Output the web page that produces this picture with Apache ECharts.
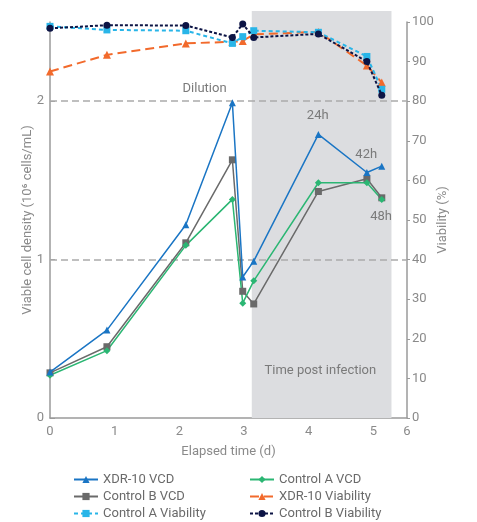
<!DOCTYPE html>
<html><head><meta charset="utf-8">
<script src="https://cdn.jsdelivr.net/npm/echarts@6/dist/echarts.min.js"></script>
<style>html,body{margin:0;padding:0;background:#fff}#c{width:477px;height:522px}</style>
</head><body><div id="c"></div>
<script>
const days = [0, 0.88, 2.1, 2.82, 2.98, 3.15, 4.15, 4.9, 5.13];
const xdrVCD = [0.29, 0.555, 1.22, 1.99, 0.89, 0.99, 1.79, 1.55, 1.59];
const ctrlAVCD = [0.27, 0.425, 1.09, 1.38, 0.725, 0.866, 1.485, 1.485, 1.38];
const ctrlBVCD = [0.285, 0.45, 1.106, 1.63, 0.80, 0.72, 1.43, 1.51, 1.39];
const xdrVia = [87.5, 91.7, 94.6, 95.0, 95.2, 96.9, 97.5, 89.0, 84.7];
const ctrlAVia = [98.9, 98.0, 97.8, 94.6, 96.3, 97.8, 97.4, 91.3, 83.0];
const ctrlBVia = [98.4, 99.2, 99.1, 96.1, 99.5, 96.1, 97.0, 90.0, 81.5];
const xTicks = [0, 1, 2, 3, 4, 5, 5.52];
const xTickLabels = ['0', '1', '2', '3', '4', '5', '6'];
const vcdTicks = [0, 1, 2];
const infectionWindow = [3.12, 5.28];
const annotations = [
  {text: 'Dilution', x: 2.39, y: 2.08},
  {text: '24h', x: 4.14, y: 1.905},
  {text: '42h', x: 4.89, y: 1.66},
  {text: '48h', x: 5.12, y: 1.27},
  {text: 'Time post infection', x: 4.18, y: 0.30}
];

const pairs = a => days.map((d, i) => [d, a[i]]);
const txt = '#8a8a8a';
const axisCol = '#9a9a9a';
const FONT = 'Roboto, "Noto Sans", sans-serif';

const chart = echarts.init(document.getElementById('c'));
chart.setOption({
  animation: false,
  textStyle: {fontFamily: FONT},
  grid: [
    {left: 50, right: 70, top: 22, bottom: 104},
    {left: 50, right: 70, top: 11, bottom: 104}
  ],
  xAxis: [
    {type: 'value', gridIndex: 0, min: 0, max: 5.52,
     name: 'Elapsed time (d)', nameLocation: 'middle', nameGap: 27, nameMoveOverlap: false,
     nameTextStyle: {color: txt, fontSize: 13},
     axisLine: {lineStyle: {color: axisCol, width: 1.5}},
     axisTick: {show: false},
     splitLine: {show: false},
     axisLabel: {customValues: xTicks, color: txt, fontSize: 13, margin: 7,
       formatter: v => xTickLabels[xTicks.indexOf(v)] }},
    {type: 'value', gridIndex: 1, min: 0, max: 5.52, show: false}
  ],
  yAxis: [
    {type: 'value', gridIndex: 0, min: 0, max: 2.5, position: 'left',
     name: 'Viable cell density (10\u2076 cells/mL)', nameLocation: 'middle', nameGap: 16, nameMoveOverlap: false,
     nameTextStyle: {color: txt, fontSize: 13},
     axisLine: {show: true, lineStyle: {color: axisCol, width: 1.5}},
     axisTick: {show: true, inside: true, length: 5, customValues: vcdTicks, lineStyle: {color: axisCol}},
     axisLabel: {customValues: vcdTicks, color: txt, fontSize: 13, margin: 6},
     splitLine: {show: false}},
    {type: 'value', gridIndex: 0, min: 0, max: 100, interval: 10, position: 'right',
     name: 'Viability (%)', nameLocation: 'middle', nameGap: 29, nameMoveOverlap: false,
     nameTextStyle: {color: txt, fontSize: 13},
     axisLine: {show: true, lineStyle: {color: axisCol, width: 1.5}},
     axisTick: {show: true, length: 3, lineStyle: {color: axisCol}},
     axisLabel: {color: txt, fontSize: 13, margin: 5},
     splitLine: {show: false}},
    {type: 'value', gridIndex: 1, min: 0, max: 1, show: false}
  ],
  legend: [
    {orient: 'vertical', left: 73, top: 473, height: 60, padding: 0, itemWidth: 24, itemHeight: 9, itemGap: 4,
     textStyle: {color: '#6a6a6a', fontSize: 13},
     data: ['XDR-10 VCD', 'Control B VCD', 'Control A Viability']},
    {orient: 'vertical', left: 249, top: 473, height: 60, padding: 0, itemWidth: 24, itemHeight: 9, itemGap: 4,
     textStyle: {color: '#6a6a6a', fontSize: 13},
     data: ['Control A VCD', 'XDR-10 Viability', 'Control B Viability']}
  ],
  series: [
    {type: 'line', xAxisIndex: 1, yAxisIndex: 2, data: [], z: 0, silent: true,
     markArea: {silent: true, itemStyle: {color: '#dcdde0'},
       data: [[{xAxis: infectionWindow[0], yAxis: 0}, {xAxis: infectionWindow[1], yAxis: 1}]]}},
    {type: 'line', name: 'guides', xAxisIndex: 0, yAxisIndex: 0, data: [], silent: true, z: 1,
     markLine: {silent: true, symbol: 'none', label: {show: false},
       lineStyle: {color: '#aaaaaa', type: [7, 4], width: 1.5},
       data: vcdTicks.filter(v => v > 0).map(v => ({yAxis: v}))},
     markPoint: {silent: true, symbol: 'circle', symbolSize: 0,
       label: {show: true, position: 'inside', color: '#7a7a7a', fontSize: 13, formatter: p => p.name},
       data: annotations.map(a => ({name: a.text, coord: [a.x, a.y]}))}},
    {type: 'line', name: 'XDR-10 Viability', xAxisIndex: 0, yAxisIndex: 1, data: pairs(xdrVia),
     color: '#f26a2c', symbol: 'triangle', symbolSize: 8,
     lineStyle: {width: 2, type: [9, 5]}, z: 3},
    {type: 'line', name: 'Control A Viability', xAxisIndex: 0, yAxisIndex: 1, data: pairs(ctrlAVia),
     color: '#29b5e8', symbol: 'rect', symbolSize: 7,
     lineStyle: {width: 2, type: [4, 3]}, z: 3},
    {type: 'line', name: 'Control B Viability', xAxisIndex: 0, yAxisIndex: 1, data: pairs(ctrlBVia),
     color: '#0c1445', symbol: 'circle', symbolSize: 7,
     lineStyle: {width: 2, type: [3, 2]}, z: 4},
    {type: 'line', name: 'Control B VCD', xAxisIndex: 0, yAxisIndex: 0, data: pairs(ctrlBVCD),
     color: '#6a6a6a', symbol: 'rect', symbolSize: 7, lineStyle: {width: 1.5}, z: 5},
    {type: 'line', name: 'Control A VCD', xAxisIndex: 0, yAxisIndex: 0, data: pairs(ctrlAVCD),
     color: '#2bb673', symbol: 'diamond', symbolSize: 7, lineStyle: {width: 1.5}, z: 5},
    {type: 'line', name: 'XDR-10 VCD', xAxisIndex: 0, yAxisIndex: 0, data: pairs(xdrVCD),
     color: '#1a75c4', symbol: 'triangle', symbolSize: 7, lineStyle: {width: 1.5}, z: 6}
  ]
});
</script></body></html>
